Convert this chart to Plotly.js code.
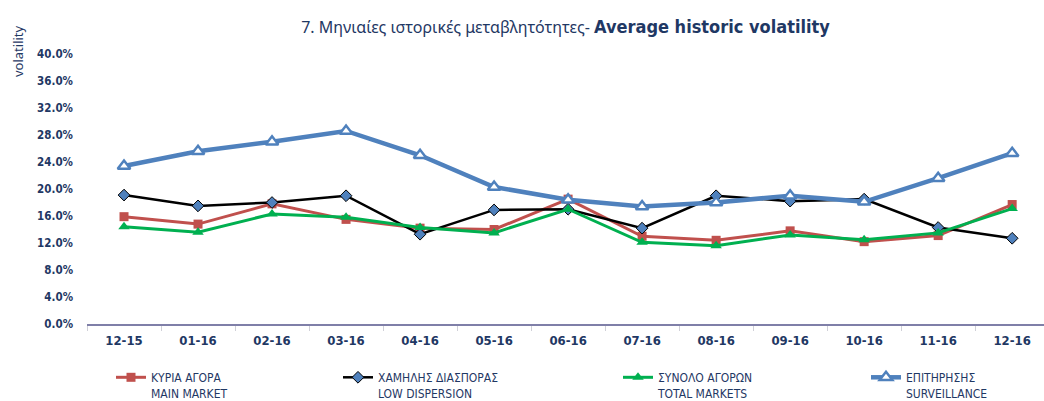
<!DOCTYPE html>
<html>
<head>
<meta charset="utf-8">
<script src="https://cdn.plot.ly/plotly-3.0.1.min.js"></script>
<style>
html,body{margin:0;padding:0;background:#fff;}
#chart{width:1044px;height:401px;}
</style>
</head>
<body>
<div id="chart"></div>
<script>
const months = ["12-15","01-16","02-16","03-16","04-16","05-16","06-16","07-16","08-16","09-16","10-16","11-16","12-16"];
const mainMarket   = [0.159,0.148,0.178,0.155,0.142,0.140,0.185,0.130,0.124,0.138,0.122,0.131,0.177];
const lowDispersion= [0.191,0.175,0.180,0.190,0.133,0.169,0.170,0.142,0.190,0.182,0.185,0.143,0.127];
const totalMarkets = [0.144,0.136,0.163,0.158,0.143,0.135,0.170,0.121,0.116,0.132,0.125,0.135,0.171];
const surveillance = [0.234,0.256,0.270,0.286,0.250,0.203,0.184,0.174,0.180,0.190,0.181,0.216,0.253];
const seriesNames = [
  "ΚΥΡΙΑ ΑΓΟΡΑ<br>MAIN MARKET",
  "ΧΑΜΗΛΗΣ ΔΙΑΣΠΟΡΑΣ<br>LOW DISPERSION",
  "ΣΥΝΟΛΟ ΑΓΟΡΩΝ<br>TOTAL MARKETS",
  "ΕΠΙΤΗΡΗΣΗΣ<br>SURVEILLANCE"
];

const navy = "#1F3864";
const narrow = "'Liberation Sans Narrow', 'DejaVu Sans Condensed', Arial, sans-serif";

const traces = [
  {x: months, y: mainMarket, name: seriesNames[0], type: "scatter", mode: "lines+markers",
   line: {color: "#C0504D", width: 3}, marker: {symbol: "square", size: 9, color: "#C0504D"}, legend: "legend"},
  {x: months, y: lowDispersion, name: seriesNames[1], type: "scatter", mode: "lines+markers",
   line: {color: "#000000", width: 2.5}, marker: {symbol: "diamond", size: 9, color: "#4F81BD", line: {color: "#000", width: 1}}, legend: "legend2"},
  {x: months, y: totalMarkets, name: seriesNames[2], type: "scatter", mode: "lines+markers",
   line: {color: "#00B050", width: 3}, marker: {symbol: "triangle-up", size: 10, color: "#00B050"}, legend: "legend3"},
  {x: months, y: surveillance, name: seriesNames[3], type: "scatter", mode: "lines+markers",
   line: {color: "#4F81BD", width: 4.5}, marker: {symbol: "triangle-up", size: 11, color: "#FFFFFF", line: {color: "#4F81BD", width: 2.5}}, legend: "legend4"}
];

const W = 1044, H = 401, ML = 87, MR = 0, MT = 54, MB = 77;
const PW = W - ML - MR, PH = H - MT - MB;
function px(x){ return (x - ML) / PW; }
function py(y){ return (H - MB - y) / PH; }
const legFont = {family: narrow, size: 12, color: navy};
function leg(xpx){
  return {x: px(xpx), xanchor: "left", y: py(363), yanchor: "top", orientation: "h",
          font: legFont, bgcolor: "rgba(0,0,0,0)", valign: "top", tracegroupgap: 0, itemwidth: 30};
}

const layout = {
  width: W, height: H,
  margin: {l: ML, r: MR, t: MT, b: MB, autoexpand: false},
  paper_bgcolor: "#fff", plot_bgcolor: "#fff",
  showlegend: true,
  title: {
    text: "<span style=\"font-family:'Noto Sans', 'Open Sans', sans-serif;font-size:16px;font-weight:normal\">7. Μηνιαίες ιστορικές μεταβλητότητες- </span><b>Average historic volatility</b>",
    font: {family: narrow, size: 18, color: navy},
    x: 0.5, xref: "paper", xanchor: "center", y: 22, yref: "container", yanchor: "middle"
  },
  xaxis: {
    type: "category", range: [-0.5, 12.43], fixedrange: true,
    showgrid: false, zeroline: false,
    showline: true, linecolor: "#7F7FA8", linewidth: 1.5,
    ticks: "outside", tickson: "boundaries", ticklen: 5, tickcolor: "#D0D0D8",
    tickfont: {family: narrow, size: 13, color: navy, weight: "bold"},
    ticklabelstandoff: 4
  },
  yaxis: {
    range: [0, 0.4], dtick: 0.04, tick0: 0, tickformat: ".1%",
    showgrid: false, zeroline: false, showline: false,
    ticks: "", tickfont: {family: narrow, size: 11.5, color: navy, weight: "bold"},
    ticklabelstandoff: 13
  },
  annotations: [{
    text: "volatility", textangle: -90, xref: "paper", yref: "paper",
    x: px(18), y: py(51), xanchor: "center", yanchor: "middle", showarrow: false,
    font: {family: "'Noto Sans', sans-serif", size: 13, color: navy}
  }],
  legend: leg(111),
  legend2: leg(338),
  legend3: leg(618),
  legend4: leg(866)
};

Plotly.newPlot("chart", traces, layout, {displayModeBar: false, staticPlot: true});
</script>
</body>
</html>
